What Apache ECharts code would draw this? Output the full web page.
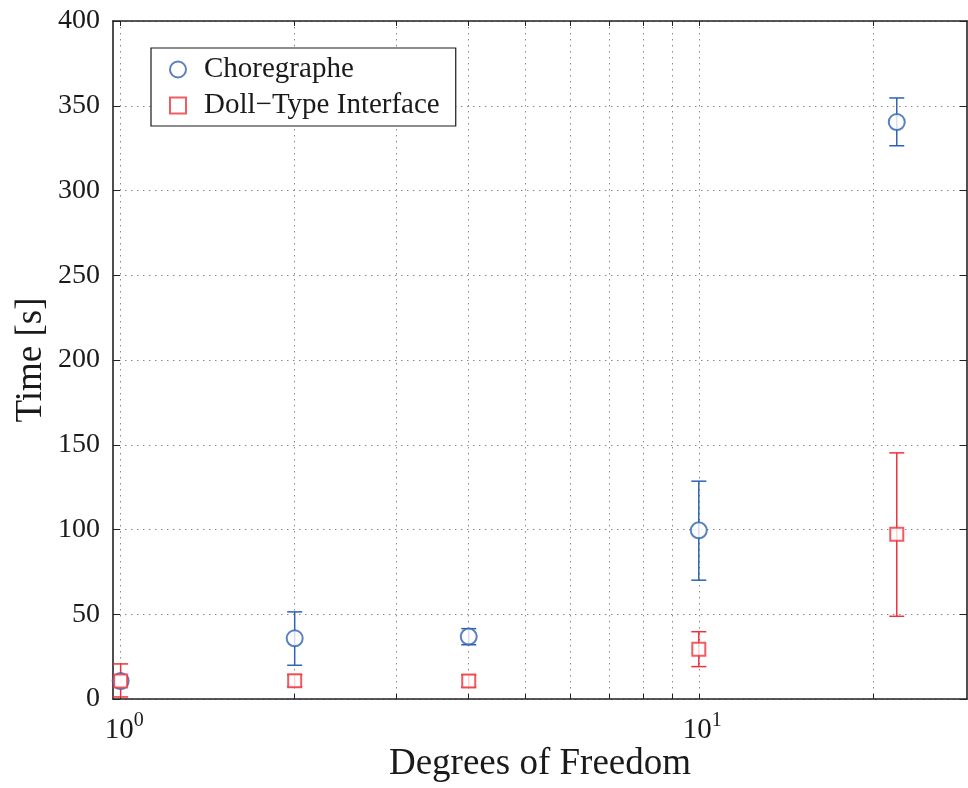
<!DOCTYPE html>
<html>
<head>
<meta charset="utf-8">
<style>
  html, body { margin: 0; padding: 0; background: #ffffff; }
  #chart { width: 968px; height: 788px; }
</style>
<script src="https://cdn.jsdelivr.net/npm/echarts@6/dist/echarts.min.js"></script>
</head>
<body>
<div id="chart"></div>
<script>
// Degrees of freedom at which each interface was timed
const dof = [1, 2, 4, 10, 22];

// Choregraphe: mean time and the lower / upper ends of its error bar [s]
const choregrapheMean = [10.6, 35.8, 36.8, 99.5, 340.4];
const choregrapheLow  = [8.0, 19.9, 32.0, 70.1, 326.4];
const choregrapheHigh = [13.2, 51.4, 41.5, 128.5, 354.6];

// Doll-type interface: mean time and error-bar ends [s]
const dollMean = [10.6, 10.8, 10.6, 29.3, 97.2];
const dollLow  = [1.2, 7.3, 7.1, 19.1, 48.8];
const dollHigh = [20.7, 14.3, 14.1, 39.7, 145.2];

// Axis tick values
const xGridTicks = [1, 2, 3, 4, 5, 6, 7, 8, 9, 10, 20];
const xLabelTicks = [1, 10];
const yTicks = [0, 50, 100, 150, 200, 250, 300, 350, 400];

const SERIF = 'Liberation Serif';
const BLUE = '#2f62b3';
const RED = '#ee323b';
const AXIS = '#222222';
const GRID = { color: '#8a8a8a', width: 1, type: [1.5, 4.5] };

const chart = echarts.init(document.getElementById('chart'), null, { renderer: 'canvas' });

function errorBars(name, color, low, high) {
  return {
    type: 'custom',
    name: name,
    xAxisIndex: 0,
    yAxisIndex: 0,
    silent: true,
    z: 3,
    encode: { x: 0, y: [1, 2] },
    data: dof.map((x, i) => [x, low[i], high[i]]),
    renderItem: function (params, api) {
      const x = api.value(0);
      const top = api.coord([x, api.value(2)]);
      const bot = api.coord([x, api.value(1)]);
      const hw = 7.5;
      const style = { stroke: color, lineWidth: 1.5, fill: null };
      return {
        type: 'group',
        children: [
          { type: 'line', shape: { x1: top[0], y1: top[1], x2: bot[0], y2: bot[1] }, style: style },
          { type: 'line', shape: { x1: top[0] - hw, y1: top[1], x2: top[0] + hw, y2: top[1] }, style: style },
          { type: 'line', shape: { x1: bot[0] - hw, y1: bot[1], x2: bot[0] + hw, y2: bot[1] }, style: style }
        ]
      };
    }
  };
}

// Powers of ten written as 10 with a raised exponent
function powerLabel(value) {
  const exp = Math.round(Math.log10(value));
  if (Math.abs(Math.pow(10, exp) - value) > 1e-6) return '';
  return '{b|10}{s|' + exp + '}';
}

const xCommon = {
  type: 'log',
  logBase: 10,
  min: 0.97,
  max: 29.1,
  gridIndex: 0
};

const option = {
  animation: false,
  backgroundColor: '#ffffff',
  grid: {
    left: 113,
    right: 1,
    top: 21,
    bottom: 89,
    outerBoundsMode: 'none',
    containLabel: false
  },
  legend: {
    orient: 'vertical',
    left: 151,
    top: 48,
    padding: [7, 16, 6, 18],
    itemGap: 7,
    itemWidth: 16,
    itemHeight: 16,
    borderColor: '#1a1a1a',
    borderWidth: 1.2,
    backgroundColor: '#ffffff',
    selectedMode: false,
    data: [
      { name: 'Choregraphe', icon: 'emptyCircle', itemStyle: { color: BLUE, borderColor: BLUE, borderWidth: 1.5 } },
      { name: 'Doll−Type Interface', icon: 'emptyRect', itemStyle: { color: RED, borderColor: RED, borderWidth: 1.5 } }
    ],
    formatter: '{t|{name}}',
    textStyle: {
      fontFamily: SERIF,
      fontSize: 29,
      color: '#1a1a1a',
      rich: { t: { fontFamily: SERIF, fontSize: 29, color: '#1a1a1a', padding: [0, 0, 0, 13] } }
    }
  },
  xAxis: [
    Object.assign({}, xCommon, {
      position: 'bottom',
      name: 'Degrees of Freedom',
      nameLocation: 'middle',
      nameGap: 47,
      nameMoveOverlap: false,
      nameTextStyle: { fontFamily: SERIF, fontSize: 37, color: '#1a1a1a' },
      axisLine: { show: true, onZero: false, lineStyle: { color: AXIS, width: 1.6 } },
      axisTick: { show: true, inside: true, length: 5, customValues: xGridTicks, lineStyle: { color: AXIS, width: 1 } },
      minorTick: { show: false },
      axisLabel: {
        show: true,
        customValues: xLabelTicks,
        margin: 6,
        formatter: powerLabel,
        rich: {
          b: { fontFamily: SERIF, fontSize: 29, color: '#1a1a1a', lineHeight: 40, verticalAlign: 'bottom', padding: [0, 0, 0, 7] },
          s: { fontFamily: SERIF, fontSize: 20, color: '#1a1a1a', verticalAlign: 'top', padding: [6, 0, 0, 0] }
        }
      },
      splitLine: { show: true, lineStyle: GRID }
    }),
    Object.assign({}, xCommon, {
      position: 'top',
      axisLine: { show: true, onZero: false, lineStyle: { color: AXIS, width: 1.6 } },
      axisTick: { show: true, inside: true, length: 5, customValues: xGridTicks, lineStyle: { color: AXIS, width: 1 } },
      axisLabel: { show: false },
      splitLine: { show: false }
    })
  ],
  yAxis: [
    {
      type: 'value',
      min: 0,
      max: 400,
      interval: 50,
      position: 'left',
      name: 'Time [s]',
      nameLocation: 'middle',
      nameGap: 63,
      nameMoveOverlap: false,
      nameTextStyle: { fontFamily: SERIF, fontSize: 37, color: '#1a1a1a' },
      axisLine: { show: true, onZero: false, lineStyle: { color: AXIS, width: 1.6 } },
      axisTick: { show: true, inside: true, length: 7, customValues: yTicks, lineStyle: { color: AXIS, width: 1 } },
      axisLabel: {
        show: true,
        margin: 13,
        customValues: yTicks,
        fontFamily: SERIF,
        fontSize: 28,
        color: '#1a1a1a'
      },
      splitLine: { show: true, lineStyle: GRID }
    },
    {
      type: 'value',
      min: 0,
      max: 400,
      interval: 50,
      position: 'right',
      axisLine: { show: true, onZero: false, lineStyle: { color: AXIS, width: 1.6 } },
      axisTick: { show: true, inside: true, length: 7, lineStyle: { color: AXIS, width: 1 } },
      axisLabel: { show: false },
      splitLine: { show: false }
    }
  ],
  series: [
    errorBars('Choregraphe error', BLUE, choregrapheLow, choregrapheHigh),
    errorBars('Doll−Type Interface error', RED, dollLow, dollHigh),
    {
      type: 'scatter',
      name: 'Choregraphe',
      xAxisIndex: 0,
      yAxisIndex: 0,
      symbol: 'emptyCircle',
      symbolSize: 16,
      z: 4,
      itemStyle: { color: BLUE, borderColor: BLUE, borderWidth: 1.5 },
      data: dof.map((x, i) => [x, choregrapheMean[i]])
    },
    {
      type: 'scatter',
      name: 'Doll−Type Interface',
      xAxisIndex: 0,
      yAxisIndex: 0,
      symbol: 'emptyRect',
      symbolSize: 13,
      z: 4,
      itemStyle: { color: RED, borderColor: RED, borderWidth: 1.5 },
      data: dof.map((x, i) => [x, dollMean[i]])
    }
  ]
};

chart.setOption(option);
</script>
</body>
</html>
